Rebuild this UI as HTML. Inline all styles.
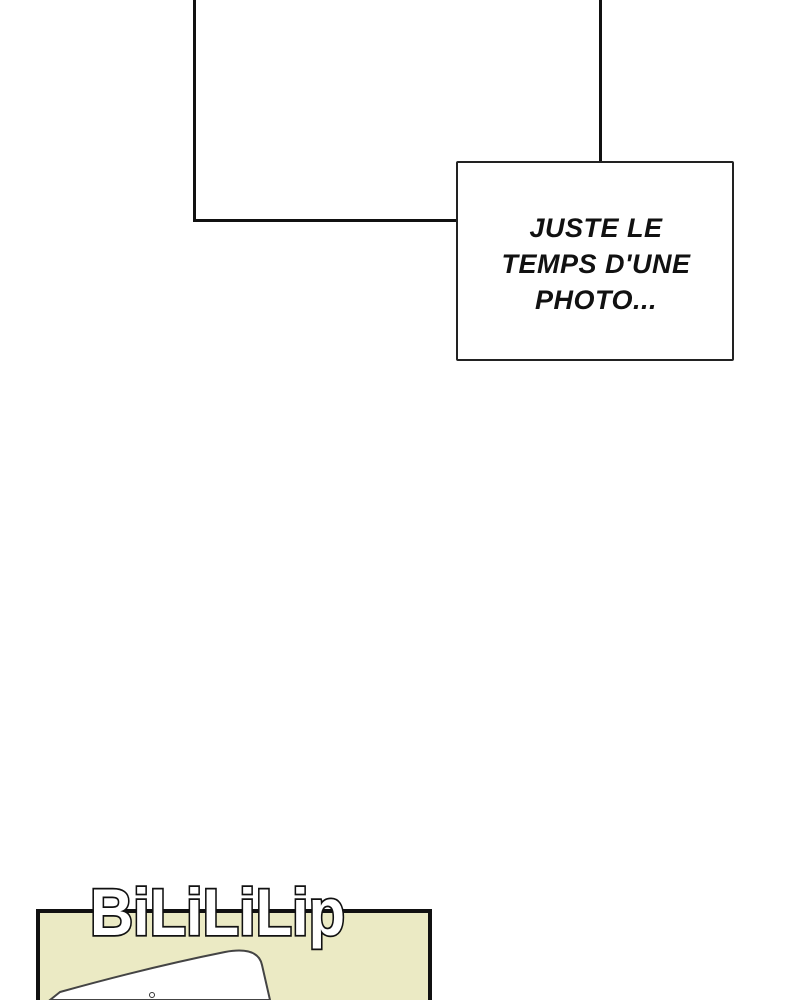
<!DOCTYPE html>
<html><head><meta charset="utf-8"><style>
html,body{margin:0;padding:0;background:#fff;width:800px;height:1000px;overflow:hidden;}
body{position:relative;font-family:"Liberation Sans",sans-serif;}
.a{position:absolute;}
</style></head><body>
<div class="a" style="left:193px;top:0;width:3px;height:222px;background:#111"></div>
<div class="a" style="left:193px;top:219px;width:266px;height:3px;background:#111"></div>
<div class="a" style="left:599px;top:0;width:3px;height:164px;background:#111"></div>
<div class="a" style="left:456px;top:161px;width:274px;height:196px;border:2px solid #222;border-radius:2px;background:#fff;"></div>
<div class="a" style="left:458px;top:210px;width:276px;text-align:center;font-style:italic;font-weight:bold;font-size:27px;line-height:36px;letter-spacing:0.5px;color:#111;">JUSTE LE<br>TEMPS D'UNE<br>PHOTO...</div>
<div class="a" style="left:36px;top:909px;width:388px;height:120px;border:4px solid #111;border-bottom:none;background:#ebeac4;"></div>
<svg class="a" style="left:0;top:0" width="800" height="1000">
<path d="M50,1000 L60,992 Q150,967 225,952 Q258,946 262,965 L270,1000 Z" fill="#fff" stroke="#444" stroke-width="2"/>
<circle cx="152" cy="995" r="2.5" fill="none" stroke="#333"/>
<text x="90" y="935" font-family="Liberation Sans" font-weight="bold" font-size="66" fill="#fff" stroke="#111" stroke-width="3.5" paint-order="stroke" textLength="255" lengthAdjust="spacingAndGlyphs">BiLiLiLip</text>
</svg>
</body></html>
